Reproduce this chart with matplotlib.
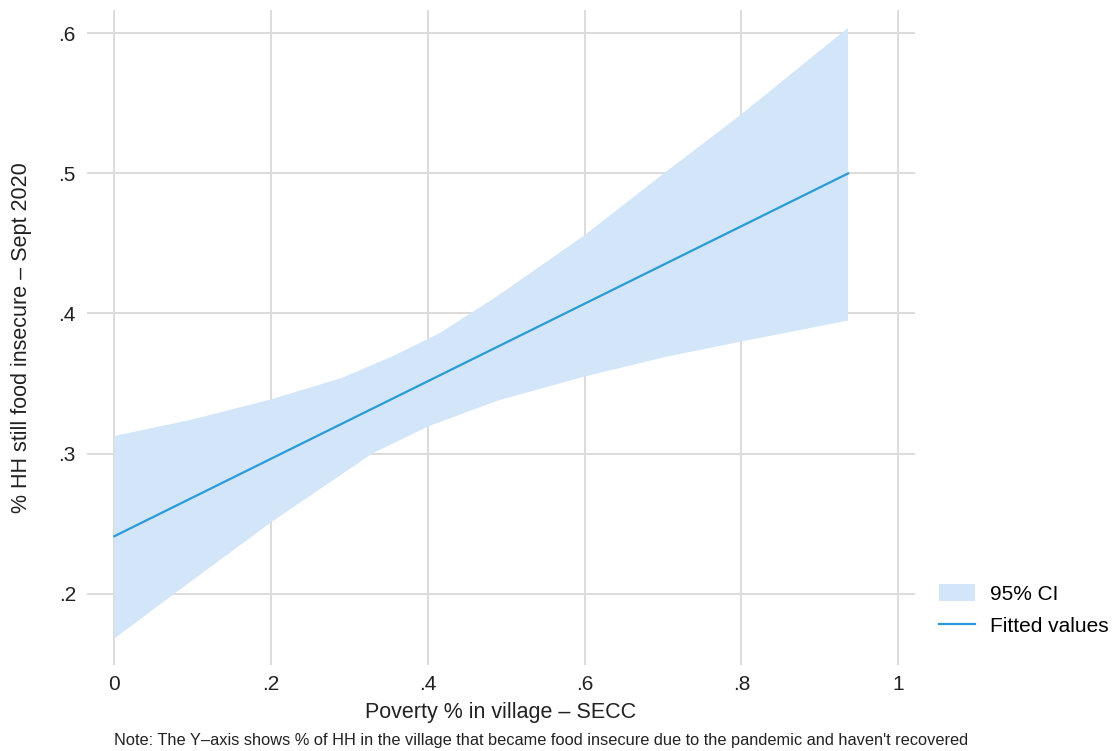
import numpy as np
import matplotlib.pyplot as plt
from matplotlib.patches import Patch
from matplotlib.lines import Line2D

plt.rcParams['font.family'] = ['Liberation Sans', 'DejaVu Sans']

# 95% CI band (upper and lower edges)
up_x = [0, 0.1, 0.2, 0.29, 0.355, 0.415, 0.49, 0.6, 0.7, 0.8, 0.936]
ci_upper = [0.3125, 0.3244, 0.3387, 0.354, 0.3695, 0.386, 0.413, 0.456, 0.4996, 0.5423, 0.604]
lo_x = [0, 0.079, 0.2, 0.329, 0.4, 0.49, 0.6, 0.703, 0.8, 0.936]
ci_lower = [0.168, 0.201, 0.251, 0.300, 0.3193, 0.338, 0.355, 0.369, 0.380, 0.395]

# fitted line
fit_x = [0, 0.936]
fit_y = [0.241, 0.500]

xticks = [0, 0.2, 0.4, 0.6, 0.8, 1]
xticklabels = ['0', '.2', '.4', '.6', '.8', '1']
yticks = [0.2, 0.3, 0.4, 0.5, 0.6]
yticklabels = ['.2', '.3', '.4', '.5', '.6']

fill_col = '#d2e5f9'
line_col = '#2a9bd8'
txt_col = '#222222'

fig = plt.figure(figsize=(11.2, 7.51), dpi=100)
ax = fig.add_axes([0.0777, 0.1145, 0.739, 0.872])

poly_x = up_x + lo_x[::-1]
poly_y = ci_upper + ci_lower[::-1]
ax.fill(poly_x, poly_y, color=fill_col, lw=0, zorder=2)
ax.plot(fit_x, fit_y, color=line_col, lw=1.6, zorder=3)

ax.set_xlim(-0.035, 1.021)
ax.set_ylim(0.149, 0.6166)
ax.set_xticks(xticks)
ax.set_xticklabels(xticklabels)
ax.set_yticks(yticks)
ax.set_yticklabels(yticklabels)
ax.tick_params(axis='both', length=0, labelsize=15, colors=txt_col)
ax.tick_params(axis='y', pad=8)
ax.tick_params(axis='x', pad=7)
ax.grid(True, color='#dcdcdc', lw=1.4, zorder=1)
ax.set_axisbelow(True)
for s in ax.spines.values():
    s.set_visible(False)

ax.set_xlabel('Poverty % in village \u2013 SECC', fontsize=15.5, color=txt_col, labelpad=6)
ax.set_ylabel('% HH still food insecure \u2013 Sept 2020', fontsize=15.5, color=txt_col, labelpad=19)

fig.text(0.483, 0.004, "Note: The Y\u2013axis shows % of HH in the village that became food insecure due to the pandemic and haven't recovered",
         ha='center', va='bottom', fontsize=11.8, color=txt_col)

handles = [Patch(facecolor=fill_col, edgecolor='none'),
           Line2D([0], [0], color=line_col, lw=1.6)]
fig.legend(handles, ['95% CI', 'Fitted values'], loc='center left',
           bbox_to_anchor=(0.8214, 0.188), frameon=False, fontsize=15,
           handlelength=1.75, handleheight=0.85, labelspacing=0.6, handletextpad=0.7)

fig.savefig('out.png', dpi=100, facecolor='white')
